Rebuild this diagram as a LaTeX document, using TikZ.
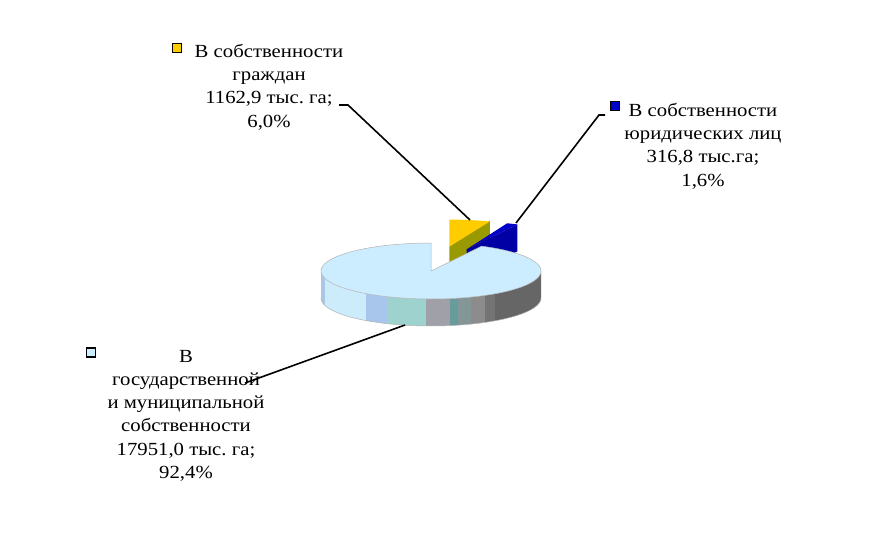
\documentclass[tikz,border=0pt]{standalone}
\usepackage{fontspec}
\setmainfont[FakeStretch=1.12]{Liberation Serif}
\frenchspacing
\usetikzlibrary{positioning}
\definecolor{pietop}{RGB}{204,236,255}
\definecolor{keyyellow}{RGB}{255,204,0}
\definecolor{keyolive}{RGB}{153,153,0}
\definecolor{keyblue}{RGB}{0,0,200}
\definecolor{keyblueside}{RGB}{0,0,165}
\definecolor{side1}{RGB}{170,200,230}
\definecolor{side2}{RGB}{204,236,252}
\definecolor{side3}{RGB}{168,198,236}
\definecolor{side4}{RGB}{158,210,206}
\definecolor{side5}{RGB}{160,160,168}
\definecolor{side6}{RGB}{104,156,156}
\definecolor{side7}{RGB}{132,150,150}
\definecolor{side8}{RGB}{140,140,140}
\definecolor{side9}{RGB}{116,116,116}
\definecolor{side10}{RGB}{102,102,102}
\begin{document}
\begin{tikzpicture}[x=1pt,y=-1pt,
    lbl/.style={align=center,inner sep=0pt,anchor=north,
      font=\rmfamily\fontsize{18.5}{23.2}\selectfont},
    key/.style={draw=black,line width=1.4pt,minimum size=9pt,inner sep=0pt},
    leader/.style={draw=black,line width=1.6pt},
    rim/.style={draw=gray!60,line width=0.5pt}]
  \useasboundingbox (0,0) rectangle (872,554);
  % exploded slice: citizens
  \fill[keyolive] (449.3,246.6) -- (489.8,220.6) -- (489.8,247.6) -- (449.3,273.6) -- cycle;
  \fill[keyyellow] (449.3,246.6)
    -- plot[domain=0:21.6,samples=12] ({449.3+110*sin(\x)},{246.6-27*cos(\x)}) -- cycle;
  % exploded slice: legal entities
  \fill[keyblueside] (466.7,249.3) -- (517.3,224.4) -- (517.3,251.4) -- (466.7,276.3) -- cycle;
  \fill[keyblue] (466.7,249.3)
    -- plot[domain=21.6:27.4,samples=6] ({466.7+110*sin(\x)},{249.3-28*cos(\x)}) -- cycle;
  % main slice, side
  \begin{scope}
    \clip plot[domain=90:270,samples=60] ({431+110*sin(\x)},{271-28*cos(\x)})
      -- plot[domain=270:90,samples=60] ({431+110*sin(\x)},{298-28*cos(\x)}) -- cycle;
    \foreach \a/\b/\c in {318/325/side1,325/366/side2,366/388/side3,388/426/side4,
      426/450/side5,450/458/side6,458/471/side7,471/485/side8,485/495/side9,495/545/side10}
      \fill[\c] (\a,240) rectangle (\b,330);
  \end{scope}
  \draw[rim] plot[domain=90:270,samples=60] ({431+110*sin(\x)},{298-28*cos(\x)});
  % main slice, top
  \filldraw[fill=pietop,rim] (431,271)
    -- plot[domain=27.4:360,samples=90] ({431+110*sin(\x)},{271-28*cos(\x)}) -- cycle;
  % labels
  \node[lbl] (lc) at (269,44) {В собственности\\граждан\\1162,9 тыс. га;\\6,0\%};
  \node[lbl] (lj) at (703,103) {В собственности\\юридических лиц\\316,8 тыс.га;\\1,6\%};
  \node[lbl] (lg) at (186,350) {В\\государственной\\и муниципальной\\собственности\\17951,0 тыс. га;\\92,4\%};
  \node[key,fill=keyyellow] (kc) at (177,47.7) {};
  \node[key,fill=keyblue] (kj) at (615,106) {};
  \node[key,fill=pietop] (kg) at (90.7,352.3) {};
  % leader lines
  \coordinate (tc) at (470,220);
  \coordinate (tj) at (516,223);
  \coordinate (tg) at (405,325);
  \coordinate (ec) at (339,105);
  \coordinate (ej) at (605,115);
  \coordinate (eg) at (245,383);
  \draw[leader] (ec) -- (348,105) -- (tc);
  \draw[leader] (ej) -- (599,115) -- (tj);
  \draw[leader] (eg) -- (tg);
\end{tikzpicture}
\end{document}
